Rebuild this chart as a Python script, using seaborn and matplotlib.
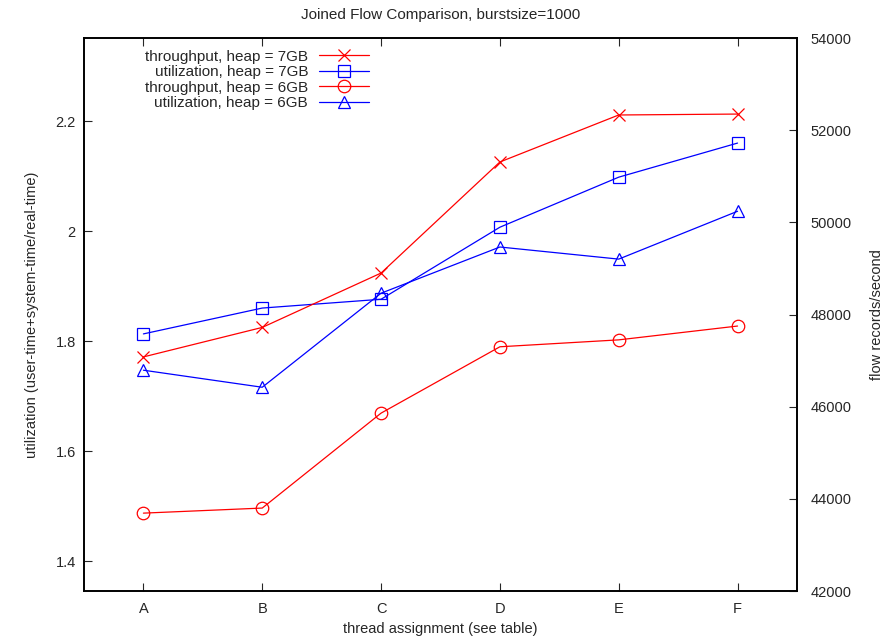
import seaborn as sns
import pandas as pd
import numpy as np
import matplotlib
matplotlib.use("Agg")
import matplotlib.pyplot as plt

# values
assignments = ["A", "B", "C", "D", "E", "F"]
throughput_7gb = [47080, 47720, 48900, 51310, 52330, 52350]
util_7gb = [1.813, 1.860, 1.876, 2.007, 2.098, 2.160]
throughput_6gb = [43690, 43800, 45860, 47300, 47450, 47750]
util_6gb = [1.747, 1.716, 1.887, 1.971, 1.949, 2.036]

df = pd.DataFrame({
    "assignment": assignments,
    "tp7": throughput_7gb,
    "ut7": util_7gb,
    "tp6": throughput_6gb,
    "ut6": util_6gb,
})

sns.set_style("white")
plt.rcParams["font.family"] = ["Liberation Sans", "DejaVu Sans"]
plt.rcParams["font.size"] = 10.5

fig = plt.figure(figsize=(8.86, 6.37), dpi=100)
ax = fig.add_axes([0.0948, 0.0722, 0.8047, 0.8681])
ax2 = ax.twinx()


def draw(a, col, color, marker, label):
    # open gnuplot-like markers, edge in the line colour
    sns.lineplot(data=df, x="assignment", y=col, ax=a, color=color, marker=marker,
                 label=label, legend=False, linewidth=0.9, markersize=9,
                 markeredgewidth=0.9, mfc="none", mec=color)


# utilization on the left axis, throughput on the right axis
draw(ax, "ut7", "blue", "s", "utilization, heap = 7GB")
draw(ax, "ut6", "blue", "^", "utilization, heap = 6GB")
draw(ax2, "tp7", "red", "x", "throughput, heap = 7GB")
draw(ax2, "tp6", "red", "o", "throughput, heap = 6GB")

ax.set_xlim(-0.5, 5.5)
ax.set_ylim(1.3455, 2.351)
ax2.set_ylim(42000, 54000)
ax.set_yticks([1.4, 1.6, 1.8, 2.0, 2.2])
ax.set_yticklabels(["1.4", "1.6", "1.8", "2", "2.2"])
ax2.set_yticks(np.arange(42000, 54001, 2000))

ax.tick_params(axis="x", direction="in", top=True, bottom=True, length=6, width=0.8, pad=8)
ax.tick_params(axis="y", direction="in", left=True, right=False, length=6, width=0.8, pad=6)
ax2.tick_params(axis="y", direction="in", right=True, length=6, width=0.8, pad=10)

for a in (ax, ax2):
    for sp in a.spines.values():
        sp.set_linewidth(1.2)
        sp.set_color("black")

ax.set_xlabel("thread assignment (see table)", labelpad=4)
ax.set_ylabel("utilization (user-time+system-time/real-time)", labelpad=12)
ax2.set_ylabel("flow records/second", labelpad=13)
ax.set_title("Joined Flow Comparison, burstsize=1000", pad=14, fontsize=11)

# legend in the gnuplot order: text on the left, sample on the right
h1, l1 = ax.get_legend_handles_labels()
h2, l2 = ax2.get_legend_handles_labels()
lookup = dict(zip(l1 + l2, h1 + h2))
order = ["throughput, heap = 7GB", "utilization, heap = 7GB",
         "throughput, heap = 6GB", "utilization, heap = 6GB"]
ax2.legend([lookup[k] for k in order], order, loc="upper right",
           bbox_to_anchor=(0.40, 0.979), frameon=False, markerfirst=False,
           fontsize=11, handlelength=3.3, handletextpad=0.7, labelspacing=0.1,
           borderaxespad=0, borderpad=0)

fig.savefig("out.png", dpi=100)
